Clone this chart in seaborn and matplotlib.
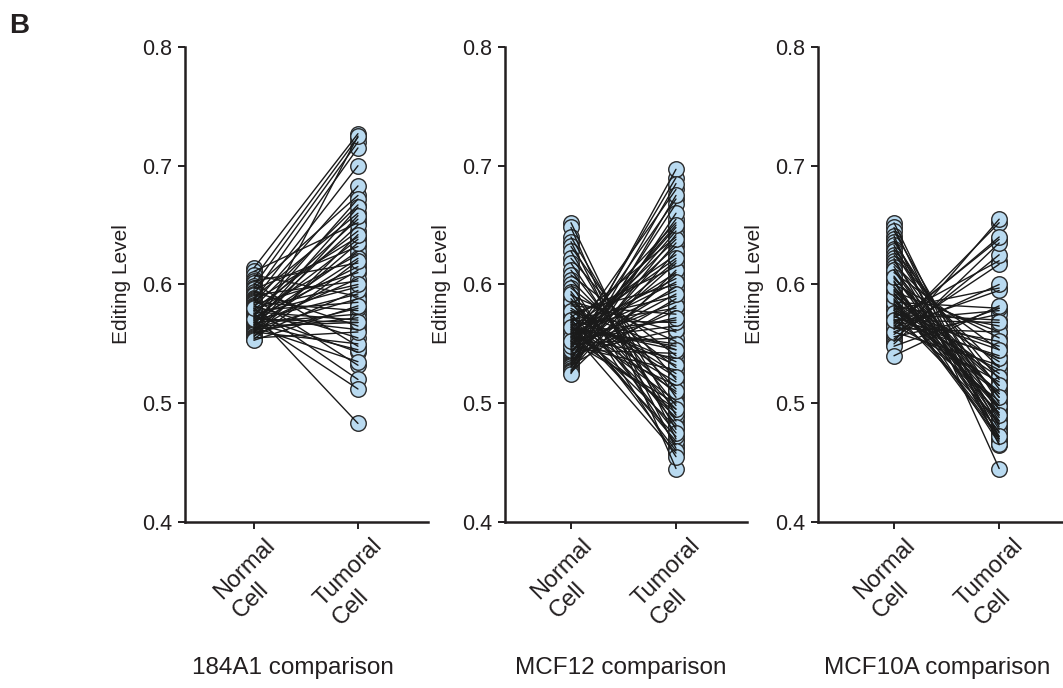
import numpy as np
import pandas as pd
import matplotlib
matplotlib.use("Agg")
import matplotlib.pyplot as plt
import matplotlib.transforms as mtransforms
import seaborn as sns

# --- data (paired editing levels) ---
groups = ["Normal\nCell", "Tumoral\nCell"]
titles = ["184A1 comparison", "MCF12 comparison", "MCF10A comparison"]
y_ticks = [0.4, 0.5, 0.6, 0.7, 0.8]

normal_184a1 = [
    0.614, 0.611, 0.608, 0.605, 0.603, 0.601, 0.599, 0.597, 0.596, 0.594,
    0.592, 0.591, 0.589, 0.588, 0.587, 0.586, 0.585, 0.584, 0.583, 0.582,
    0.581, 0.580, 0.579, 0.578, 0.578, 0.577, 0.576, 0.575, 0.575, 0.574,
    0.573, 0.572, 0.572, 0.571, 0.570, 0.570, 0.569, 0.568, 0.568, 0.567,
    0.566, 0.566, 0.565, 0.565, 0.564, 0.563, 0.563, 0.562, 0.561, 0.560,
    0.560, 0.559, 0.558, 0.557, 0.556, 0.555, 0.554, 0.553, 0.571, 0.580,
]
tumoral_184a1 = [
    0.727, 0.652, 0.590, 0.724, 0.618, 0.548, 0.720, 0.675, 0.632, 0.565,
    0.715, 0.603, 0.660, 0.532, 0.700, 0.640, 0.578, 0.683, 0.610, 0.555,
    0.667, 0.520, 0.645, 0.585, 0.625, 0.570, 0.483, 0.655, 0.598, 0.543,
    0.672, 0.615, 0.562, 0.638, 0.512, 0.592, 0.650, 0.575, 0.628, 0.545,
    0.665, 0.605, 0.568, 0.622, 0.535, 0.588, 0.658, 0.572, 0.612, 0.550,
    0.635, 0.580, 0.725, 0.595, 0.642, 0.560, 0.620, 0.582, 0.568, 0.600,
]

normal_mcf12 = [
    0.652, 0.648, 0.640, 0.636, 0.632, 0.628, 0.622, 0.618, 0.612, 0.608,
    0.604, 0.600, 0.597, 0.594, 0.591, 0.588, 0.586, 0.584, 0.582, 0.580,
    0.578, 0.576, 0.575, 0.573, 0.572, 0.571, 0.570, 0.569, 0.568, 0.567,
    0.566, 0.565, 0.564, 0.563, 0.562, 0.561, 0.560, 0.559, 0.558, 0.557,
    0.556, 0.555, 0.555, 0.554, 0.553, 0.552, 0.551, 0.550, 0.550, 0.549,
    0.548, 0.547, 0.546, 0.545, 0.544, 0.543, 0.542, 0.541, 0.540, 0.539,
    0.538, 0.537, 0.536, 0.535, 0.534, 0.533, 0.532, 0.531, 0.530, 0.528,
    0.527, 0.526, 0.525, 0.566, 0.572, 0.558, 0.562, 0.575, 0.553, 0.568,
    0.585, 0.545, 0.592, 0.560, 0.578, 0.548, 0.570, 0.556, 0.564, 0.552,
]
tumoral_mcf12 = [
    0.470, 0.445, 0.490, 0.462, 0.505, 0.478, 0.520, 0.485, 0.498, 0.540,
    0.512, 0.465, 0.530, 0.482, 0.552, 0.495, 0.560, 0.508, 0.575, 0.525,
    0.545, 0.600, 0.488, 0.615, 0.535, 0.468, 0.590, 0.518, 0.640, 0.502,
    0.580, 0.472, 0.625, 0.548, 0.492, 0.605, 0.458, 0.570, 0.652, 0.515,
    0.595, 0.538, 0.680, 0.565, 0.610, 0.500, 0.632, 0.555, 0.585, 0.648,
    0.528, 0.620, 0.672, 0.542, 0.598, 0.645, 0.562, 0.690, 0.618, 0.578,
    0.655, 0.588, 0.697, 0.635, 0.608, 0.668, 0.582, 0.642, 0.685, 0.628,
    0.660, 0.612, 0.675, 0.480, 0.532, 0.602, 0.550, 0.460, 0.638, 0.510,
    0.475, 0.592, 0.455, 0.622, 0.522, 0.650, 0.568, 0.495, 0.545, 0.572,
]

normal_mcf10a = [
    0.652, 0.648, 0.645, 0.641, 0.638, 0.636, 0.633, 0.630, 0.628, 0.625,
    0.622, 0.620, 0.617, 0.615, 0.612, 0.610, 0.607, 0.605, 0.603, 0.600,
    0.598, 0.596, 0.594, 0.592, 0.590, 0.588, 0.586, 0.585, 0.583, 0.582,
    0.580, 0.579, 0.578, 0.576, 0.575, 0.574, 0.572, 0.571, 0.570, 0.568,
    0.567, 0.566, 0.564, 0.563, 0.562, 0.560, 0.558, 0.556, 0.554, 0.552,
    0.550, 0.548, 0.540, 0.587, 0.593, 0.578, 0.569, 0.602, 0.581, 0.573,
    0.612, 0.595, 0.565, 0.584, 0.576, 0.590, 0.560, 0.598, 0.570, 0.606,
]
tumoral_mcf10a = [
    0.470, 0.465, 0.490, 0.445, 0.480, 0.500, 0.472, 0.512, 0.485, 0.520,
    0.468, 0.495, 0.530, 0.478, 0.505, 0.545, 0.488, 0.515, 0.475, 0.555,
    0.498, 0.482, 0.560, 0.508, 0.535, 0.470, 0.525, 0.580, 0.492, 0.565,
    0.510, 0.597, 0.548, 0.485, 0.570, 0.528, 0.620, 0.502, 0.578, 0.540,
    0.638, 0.518, 0.595, 0.560, 0.652, 0.532, 0.617, 0.575, 0.625, 0.655,
    0.635, 0.580, 0.582, 0.476, 0.495, 0.508, 0.552, 0.466, 0.522, 0.538,
    0.483, 0.515, 0.640, 0.498, 0.545, 0.472, 0.600, 0.490, 0.568, 0.505,
]

panels = [
    (normal_184a1, tumoral_184a1),
    (normal_mcf12, tumoral_mcf12),
    (normal_mcf10a, tumoral_mcf10a),
]


def to_long(normal, tumoral):
    n = len(normal)
    return pd.DataFrame({
        "pair": list(range(n)) * 2,
        "pos": [0] * n + [1] * n,
        "value": list(normal) + list(tumoral),
    })


sns.set_theme(style="ticks")
plt.rcParams["font.family"] = ["Liberation Sans", "DejaVu Sans"]

fig = plt.figure(figsize=(10.63, 6.88), dpi=100)

boxes = [
    [0.174, 0.2413, 0.2286, 0.6904],
    [0.475, 0.2413, 0.2277, 0.6904],
    [0.7695, 0.2413, 0.2305, 0.6904],
]
xlims = [(-0.663, 1.673), (-0.629, 1.676), (-0.723, 1.607)]
title_x = [0.444, 0.479, 0.486]
text_col = "#231f20"

for i, ((normal, tumoral), title) in enumerate(zip(panels, titles)):
    ax = fig.add_axes(boxes[i])
    df = to_long(normal, tumoral)

    sns.scatterplot(data=df, x="pos", y="value", ax=ax, s=125,
                    color="#b9daf0", edgecolor="#2a2a2a", linewidth=1.0,
                    zorder=2, legend=False)
    sns.lineplot(data=df, x="pos", y="value", units="pair", estimator=None,
                 ax=ax, color="#1a1a1a", linewidth=1.0, zorder=3, legend=False)

    ax.set_xlim(*xlims[i])
    ax.set_ylim(0.4, 0.8)
    ax.set_yticks(y_ticks)
    ax.set_yticklabels([f"{t:.1f}" for t in y_ticks], fontsize=15.5)
    ax.set_xticks([0, 1])
    ax.set_xticklabels(groups, rotation=45, ha="center", ma="left",
                       fontsize=17, linespacing=1.25)
    shift = mtransforms.ScaledTranslation(-0.10, 0, fig.dpi_scale_trans)
    for lab in ax.get_xticklabels():
        lab.set_transform(lab.get_transform() + shift)
    ax.set_ylabel("Editing Level", fontsize=15, labelpad=8)
    ax.set_xlabel(title, fontsize=17.5)
    ax.xaxis.set_label_coords(title_x[i], -0.285)
    ax.tick_params(axis="both", length=5, width=1.4, color=text_col,
                   labelcolor=text_col, pad=4)
    ax.yaxis.label.set_color(text_col)
    ax.xaxis.label.set_color(text_col)
    for side in ["top", "right"]:
        ax.spines[side].set_visible(False)
    for side in ["left", "bottom"]:
        ax.spines[side].set_linewidth(1.8)
        ax.spines[side].set_color(text_col)

fig.text(0.009, 0.952, "B", fontsize=20, fontweight="bold", color=text_col)

fig.savefig("out.png", dpi=100)
